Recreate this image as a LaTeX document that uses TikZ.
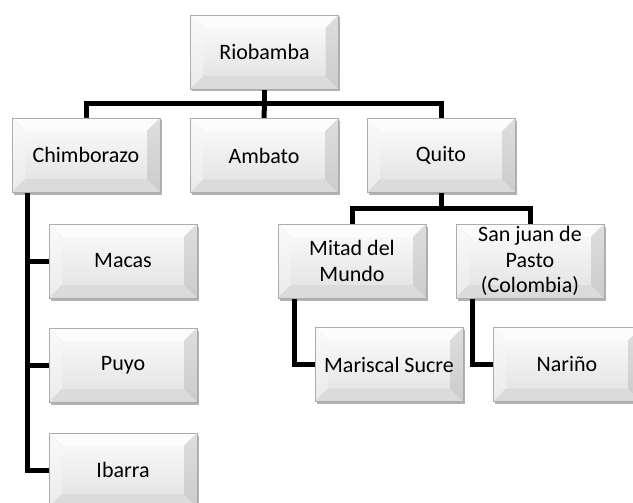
\documentclass[tikz,border=0pt]{standalone}
\usepackage{fontspec}
\setmainfont{Carlito}
\usetikzlibrary{shadows,calc,backgrounds}
\tikzset{
  bev/.style={rectangle, minimum width=148pt, minimum height=74pt, inner sep=0pt,
    align=center, font=\fontsize{22}{25.5}\selectfont, draw=gray!65, line width=0.7pt,
    drop shadow={shadow xshift=1.5pt, shadow yshift=-2.5pt, fill=black, opacity=0.3},
    path picture={
      \coordinate (nw) at (path picture bounding box.north west);
      \coordinate (se) at (path picture bounding box.south east);
      \coordinate (ne) at (path picture bounding box.north east);
      \coordinate (sw) at (path picture bounding box.south west);
      \coordinate (inw) at ([shift={(13,13)}]nw);
      \coordinate (ine) at ([shift={(-13,13)}]ne);
      \coordinate (ise) at ([shift={(-13,-13)}]se);
      \coordinate (isw) at ([shift={(13,-13)}]sw);
      \shade[top color=gray!6, bottom color=gray!20] (inw) rectangle (ise);
      \fill[gray!2] (nw) -- (ne) -- (ine) -- (inw) -- cycle;
      \shade[top color=gray!4, bottom color=gray!16] (nw) -- (inw) -- (isw) -- (sw) -- cycle;
      \shade[top color=gray!26, bottom color=gray!40] (ne) -- (se) -- (ise) -- (ine) -- cycle;
      \fill[gray!28] (sw) -- (isw) -- (ise) -- (se) -- cycle;
    }},
  conn/.style={line width=5pt, black}
}
\begin{document}
\begin{tikzpicture}[x=1pt,y=-1pt]
\useasboundingbox (0,0) rectangle (633,503);
\clip (0,0) rectangle (633,503);
\node[bev] (rio) at (264.5,52) {Riobamba};
\node[bev] (chim) at (86,155) {Chimborazo};
\node[bev] (amb) at (264,155.5) {Ambato};
\node[bev] (quito) at (441,155.5) {Quito};
\node[bev] (mitad) at (352,261) {Mitad del\\Mundo};
\node[bev] (sanjuan) at (530,261) {San juan de\\Pasto\\(Colombia)};
\node[bev] (mariscal) at (389,364.5) {Mariscal Sucre};
\node[bev] (narino) at (567,364.5) {Nariño};
\node[bev] (macas) at (123,261) {Macas};
\node[bev] (puyo) at (123,365) {Puyo};
\node[bev] (ibarra) at (123,470) {Ibarra};
\begin{scope}[on background layer]
  \coordinate (bus1) at ($(rio.south)+(0,14)$);
  \draw[conn] (rio.south) -- (bus1);
  \draw[conn] (bus1) -| (chim.north);
  \draw[conn] (bus1) -| (quito.north);
  \draw[conn] (bus1) -- (amb.north);
  \coordinate (bus2) at ($(quito.south)+(0,15.5)$);
  \draw[conn] (quito.south) -- (bus2);
  \draw[conn] (bus2) -| (mitad.north);
  \draw[conn] (bus2) -| (sanjuan.north);
  \coordinate (chv) at ($(chim.south)+(-59,0)$);
  \draw[conn] (chv) |- (macas.west);
  \draw[conn] (chv) |- (puyo.west);
  \draw[conn] (chv) |- (ibarra.west);
  \coordinate (mv) at ($(mitad.south)+(-57.5,0)$);
  \draw[conn] (mv) |- (mariscal.west);
  \coordinate (sv) at ($(sanjuan.south)+(-58,0)$);
  \draw[conn] (sv) |- (narino.west);
\end{scope}
\end{tikzpicture}
\end{document}
